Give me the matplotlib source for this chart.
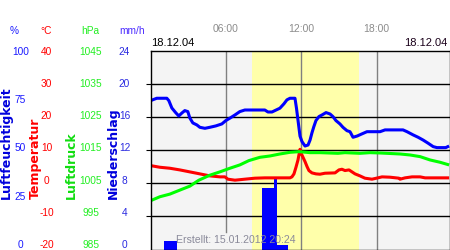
import matplotlib
matplotlib.use("Agg")
import matplotlib.pyplot as plt

# ---------------- data ----------------
hum_t = [0.0, 0.5, 1.3, 1.46, 1.7, 2.0, 2.25, 2.5, 2.73, 2.97, 3.13, 3.37, 3.69, 3.93, 4.33,
         4.72, 5.2, 5.68, 6.0, 6.32, 6.72, 7.11, 7.51, 9.1, 9.35, 9.67, 9.9, 10.3, 10.62, 10.86,
         11.1, 11.5, 11.62, 11.9, 12.06, 12.3, 12.54, 12.7, 12.85, 13.0, 13.17, 13.41, 13.65,
         13.97, 14.29, 14.52, 14.76, 15.08, 15.32, 15.64, 15.88, 16.12, 16.44, 16.83, 17.23,
         18.27, 18.67, 19.86, 20.1, 20.42, 20.9, 21.3, 21.7, 22.1, 22.5, 22.8, 23.5, 23.77]
hum_v = [74.8, 76.0, 76.0, 74.8, 71.1, 68.8, 67.1, 68.6, 69.8, 69.3, 66.1, 63.6, 62.6, 61.4, 60.9,
         61.4, 62.1, 63.1, 64.8, 66.0, 67.6, 69.3, 70.1, 70.1, 69.1, 69.1, 69.8, 71.0, 73.2, 75.2,
         76.0, 76.0, 71.0, 57.0, 54.2, 52.0, 52.5, 55.0, 58.6, 61.7, 64.8, 66.8, 67.6,
         68.8, 68.1, 66.8, 64.8, 63.1, 61.4, 59.7, 59.2, 56.4, 57.0, 58.1, 59.2,
         59.2, 60.1, 60.1, 60.1, 59.2, 57.6, 56.4, 55.0, 53.4, 51.7, 51.2, 51.2, 52.0]

temp_t = [0.0, 0.74, 1.54, 2.33, 3.13, 3.93, 4.72, 5.52, 5.92, 6.16, 6.72, 7.51, 8.31, 9.1,
          11.1, 11.26, 11.42, 11.58, 11.74, 11.9, 11.98, 12.14, 12.3, 12.46, 12.61, 12.85,
          13.17, 13.49, 13.89, 14.69, 15.0, 15.24, 15.48, 15.8, 16.04, 16.28, 16.67, 17.07,
          17.63, 18.1, 18.43, 19.06, 19.78, 19.86, 20.26, 20.82, 21.46, 21.86, 23.77]
temp_v = [5.3, 4.8, 4.5, 4.0, 3.4, 2.8, 2.2, 1.9, 1.9, 1.2, 0.9, 1.2, 1.5, 1.6,
          1.6, 1.9, 2.8, 4.8, 7.0, 10.2, 9.1, 7.8, 6.5, 5.0, 3.8, 3.1,
          2.8, 2.7, 3.0, 3.1, 4.0, 4.2, 3.8, 4.0, 3.4, 2.8, 2.2, 1.5,
          1.2, 1.6, 1.9, 1.8, 1.5, 1.2, 1.6, 1.9, 1.9, 1.6, 1.6]

pres_t = [0.0, 0.74, 1.54, 2.33, 3.13, 3.85, 4.72, 5.52, 6.32, 7.11, 7.83, 8.71, 9.51, 10.3,
          11.1, 11.82, 12.7, 13.49, 14.92, 15.48, 16.67, 17.47, 18.27, 19.86, 20.66, 21.46,
          22.25, 23.05, 23.77]
pres_v = [999.7, 1000.9, 1001.7, 1002.9, 1004.1, 1005.9, 1007.4, 1008.4, 1009.5, 1010.5,
          1011.8, 1012.8, 1013.2, 1013.8, 1014.3, 1014.5, 1014.2, 1014.2, 1014.0, 1014.2,
          1014.0, 1014.2, 1014.1, 1013.8, 1013.5, 1013.0, 1012.0, 1011.3, 1010.5]

rain_start = [1.05, 8.9, 9.85, 10.05]
rain_end = [2.1, 9.85, 10.05, 10.95]
rain_v = [1.0, 7.4, 8.5, 0.55]

sunrise, sunset = 8.05, 16.6
hour_ticks = [6, 12, 18]
hour_labels = ["06:00", "12:00", "18:00"]
hum_ticks = [0, 25, 50, 75, 100]
temp_ticks = [-20, -10, 0, 10, 20, 30, 40]
pres_ticks = [985, 995, 1005, 1015, 1025, 1035, 1045]
rain_ticks = [0, 4, 8, 12, 16, 20, 24]
date_label = "18.12.04"
created = "Erstellt: 15.01.2012 20:24"

# ---------------- style ----------------
plt.rcParams['font.family'] = ['Liberation Sans', 'DejaVu Sans']
BLUE = '#0000ff'
RED = '#ff0000'
GREEN = '#00ff00'
W, H = 450, 250

fig = plt.figure(figsize=(4.5, 2.5), dpi=100)
fig.patch.set_facecolor('white')

def fx(px):
    return px / W

def fy(py):
    return (H - py) / H

pos = [fx(150.5), fy(249.5), fx(449.5) - fx(150.5), fy(50.5) - fy(249.5)]
XMAX = 23.8

ax = fig.add_axes(pos)
ax.set_facecolor('#f4f4f4')
ax.set_xlim(0, XMAX)
ax.set_ylim(temp_ticks[0], temp_ticks[-1])
ax.axvspan(sunrise, sunset, color='#ffffaa', lw=0, zorder=0)
ax.set_yticks(temp_ticks[1:-1])
ax.grid(axis='y', color='black', lw=1.0)
ax.tick_params(axis='y', left=False, labelleft=False)
ax.set_xticks(hour_ticks)
ax.set_xticklabels(hour_labels)
ax.xaxis.tick_top()
ax.tick_params(axis='x', length=0, pad=12, labelsize=7.5, labelcolor='#8c8c8c')
for h in hour_ticks:
    ymin = 0.087 if h == 6 else 0.0
    ax.axvline(h, ymin=ymin, color='#808080', lw=1.0, zorder=1)
for s in ax.spines.values():
    s.set_visible(False)

def twin(ylim):
    a = ax.twinx()
    a.set_ylim(*ylim)
    a.set_xlim(0, XMAX)
    a.set_yticks([])
    for s in a.spines.values():
        s.set_visible(False)
    return a

axr = twin((rain_ticks[0], rain_ticks[-1]))
axr.bar(rain_start, rain_v, width=[e - s for s, e in zip(rain_start, rain_end)],
        align='edge', color=BLUE, lw=0)

axt = twin((temp_ticks[0], temp_ticks[-1]))
axt.plot(temp_t, temp_v, color=RED, lw=2.2, solid_capstyle='butt')

axp = twin((pres_ticks[0], pres_ticks[-1]))
axp.plot(pres_t, pres_v, color=GREEN, lw=2.2, solid_capstyle='butt')

axh = twin((hum_ticks[0], hum_ticks[-1]))
axh.plot(hum_t, hum_v, color=BLUE, lw=2.2, solid_capstyle='butt')
for s in axh.spines.values():
    s.set_visible(True)
    s.set_color('black')
    s.set_linewidth(1.0)

# ---------------- tick label columns ----------------
lab_pos = [fx(150.5), fy(244), pos[2], fy(50.7) - fy(244)]

def label_axis(ticks, center_px, color):
    a = fig.add_axes(lab_pos, frameon=False)
    a.set_xticks([])
    a.set_ylim(ticks[0], ticks[-1])
    a.set_yticks(ticks)
    a.set_yticklabels([str(t) for t in ticks])
    a.tick_params(axis='y', length=0, pad=(150.5 - center_px) * 72 / 100,
                  labelsize=7.3, labelcolor=color)
    for lab in a.get_yticklabels():
        lab.set_ha('center')
    a.patch.set_visible(False)
    return a

label_axis(hum_ticks, 20.5, '#1a1aff')
label_axis(temp_ticks, 46.5, RED)
label_axis(pres_ticks, 91, '#22ee22')
label_axis(rain_ticks, 124.5, '#2a2ae0')

# units
for txt, xc, col in [("%", 14, '#1a1aff'), ("°C", 46, RED), ("hPa", 90, '#22ee22'),
                     ("mm/h", 132, '#4a2aff')]:
    fig.text(fx(xc), fy(30.7), txt, ha='center', va='center', fontsize=7.3, color=col)

# rotated axis titles
for txt, xc, col in [("Luftfeuchtigkeit", 6, '#0000dd'), ("Temperatur", 35, RED),
                     ("Luftdruck", 71, '#11dd11'), ("Niederschlag", 113, '#0000dd')]:
    fig.text(fx(xc), fy(199), txt, rotation=90, ha='center', va='bottom',
             fontsize=9, fontweight='bold', color=col, family='DejaVu Sans')

# dates
fig.text(fx(151), fy(43.3), date_label, ha='left', va='center', fontsize=8, color='black')
fig.text(fx(447), fy(43.3), date_label, ha='right', va='center', fontsize=8, color='#1a001a')

fig.text(fx(176), fy(240), created, ha='left', va='center', fontsize=7.6, color='#8a8a9a')

fig.savefig('out.png', dpi=100)
